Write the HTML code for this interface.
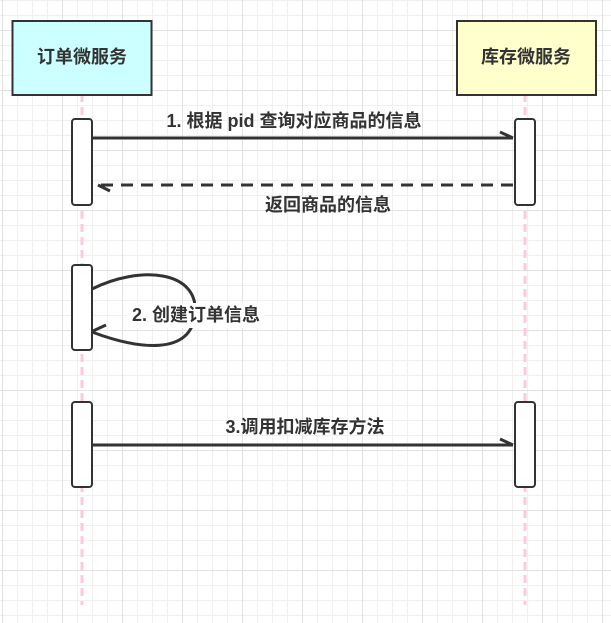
<!DOCTYPE html>
<html><head><meta charset="utf-8"><style>
body{margin:0;width:611px;height:623px;overflow:hidden;background:#fff;
background-image:
linear-gradient(to right,#e2e2e2 1px,transparent 1px),
linear-gradient(to bottom,#e2e2e2 1px,transparent 1px),
linear-gradient(to right,#f0f0f0 1px,transparent 1px),
linear-gradient(to bottom,#f0f0f0 1px,transparent 1px);
background-size:60px 60px,60px 60px,15px 15px,15px 15px;
background-position:2px 0,0 30px,2px 0,0 0;}
svg{position:absolute;left:0;top:0}
text{font-family:"Liberation Sans","Noto Sans CJK SC",sans-serif;font-weight:bold;font-size:18px;fill:#333}
</style></head><body>
<svg width="611" height="623" viewBox="0 0 611 623">
<line x1="82" y1="81" x2="82" y2="605" stroke="#ffc8e0" stroke-width="3" stroke-dasharray="8 5"/>
<line x1="525" y1="81" x2="525" y2="605" stroke="#ffc8e0" stroke-width="3" stroke-dasharray="8 5"/>
<rect x="12.5" y="21" width="139" height="74" fill="#ccffff" stroke="#333" stroke-width="2"/>
<rect x="457" y="21" width="139" height="74" fill="#ffffcc" stroke="#333" stroke-width="2"/>
<text x="82" y="58" text-anchor="middle" dominant-baseline="middle">订单微服务</text>
<text x="526" y="58" text-anchor="middle" dominant-baseline="middle">库存微服务</text>
<g fill="#fff" stroke="#333" stroke-width="2">
<rect x="72" y="119" width="20" height="86" rx="3"/>
<rect x="515" y="119" width="20" height="86" rx="3"/>
<rect x="72" y="265" width="20" height="85" rx="3"/>
<rect x="72" y="402" width="20" height="85" rx="3"/>
<rect x="515" y="402" width="20" height="85" rx="3"/>
</g>
<g stroke="#333" stroke-width="3" fill="none">
<line x1="92" y1="138" x2="513" y2="138"/>
<path d="M500 132 L513 138"/>
<line x1="513" y1="185" x2="100" y2="185" stroke-dasharray="12 8"/>
<path d="M110 191 L98 185"/>
<path d="M92 289 C140 265 200 270 195 315 C190 355 140 350 92 332"/>
<path d="M106 325 L93 331"/>
<line x1="92" y1="445" x2="513" y2="445"/>
<path d="M500 439 L513 445"/>
</g>
<rect x="127" y="303" width="138" height="25" fill="#fff"/>
<text x="294" y="122" text-anchor="middle" dominant-baseline="middle">1. 根据 pid 查询对应商品的信息</text>
<text x="328" y="206" text-anchor="middle" dominant-baseline="middle">返回商品的信息</text>
<text x="196" y="316" text-anchor="middle" dominant-baseline="middle">2. 创建订单信息</text>
<text x="305" y="428" text-anchor="middle" dominant-baseline="middle">3.调用扣减库存方法</text>
</svg>
</body></html>
